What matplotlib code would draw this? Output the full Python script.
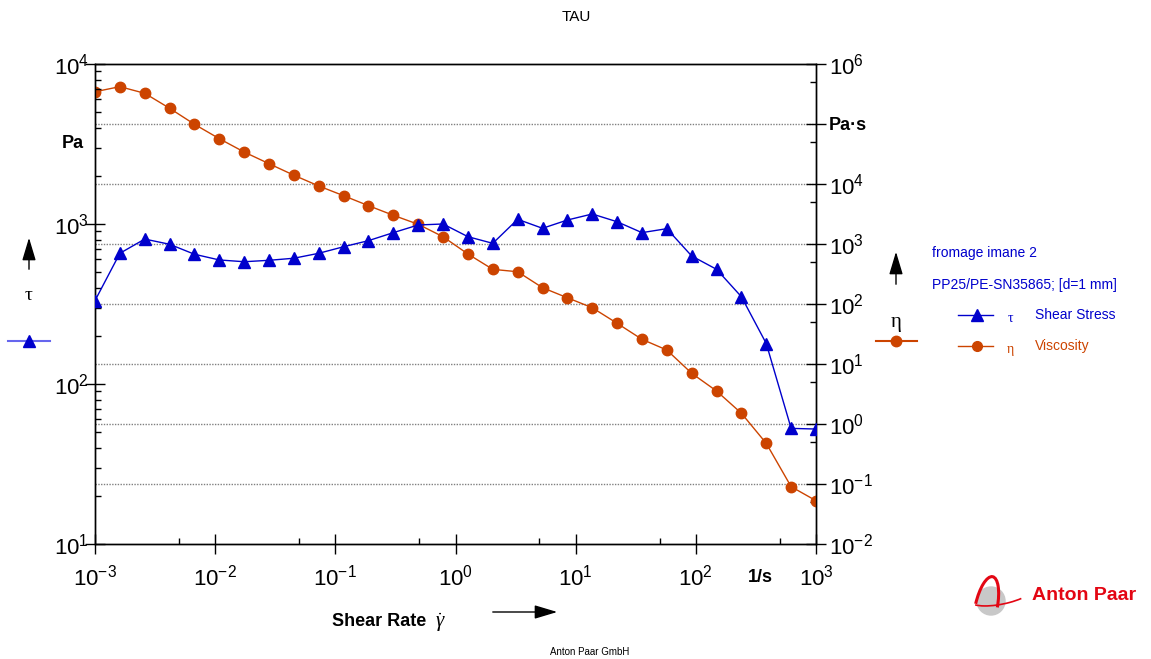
import numpy as np
import matplotlib
matplotlib.use('Agg')
import matplotlib.pyplot as plt
from matplotlib.lines import Line2D
from matplotlib.patches import Circle, Arc, FancyArrowPatch
from matplotlib import ticker

plt.rcParams['font.family'] = ['Liberation Sans', 'DejaVu Sans']
plt.rcParams['mathtext.fontset'] = 'custom'
plt.rcParams['mathtext.rm'] = 'Liberation Sans'
plt.rcParams['mathtext.it'] = 'Liberation Serif:italic'
plt.rcParams['mathtext.bf'] = 'Liberation Sans:bold'

# shear rate [1/s]
shear_rate = [0.001, 0.00161, 0.002593, 0.004175, 0.006723, 0.01083, 0.01743, 0.02807,
              0.0452, 0.07279, 0.1172, 0.1887, 0.3039, 0.4894, 0.788, 1.269, 2.043,
              3.29, 5.298, 8.532, 13.74, 22.12, 35.62, 57.36, 92.36, 148.7, 239.5,
              385.6, 621.0, 1000.0]
# shear stress tau [Pa]
shear_stress = [332, 656, 805, 747, 647, 596, 581, 593, 611, 656, 721, 787, 883, 986,
                1000, 833, 757, 1070, 940, 1059, 1155, 1033, 883, 935, 631, 521, 351,
                179, 52.8, 52.3]
# viscosity eta [Pa.s]
viscosity = [345000, 419000, 325000, 183000, 98900, 56900, 34100, 21800, 14000, 9270,
             6380, 4350, 3010, 2130, 1320, 681, 378, 345, 187, 127, 86.7, 47.7, 25.8,
             17.1, 7.0, 3.55, 1.51, 0.476, 0.0902, 0.0527]

x_exps = [-3, -2, -1, 0, 1, 2, 3]
left_exps = [1, 2, 3, 4]
right_exps = [-2, -1, 0, 1, 2, 3, 4, 5, 6]

BLUE = '#0000cc'
ORANGE = '#cc4400'
RED = '#e30613'
W, H = 1151, 659


def fx(px):
    return px / W


def fy(py):
    return 1 - py / H


def dec_label(e):
    return r'$\mathdefault{10^{%d}}$' % e


fig = plt.figure(figsize=(W / 100, H / 100), dpi=100)
ax1 = fig.add_axes([fx(95), fy(544), (816 - 95) / W, (544 - 64) / H])
ax2 = ax1.twinx()

ax1.set_xscale('log')
ax1.set_yscale('log')
ax2.set_yscale('log')
ax1.set_xlim(1e-3, 1e3)
ax1.set_ylim(10, 1e4)
ax2.set_ylim(1e-2, 1e6)

# grid lines follow the right axis decades
for e in right_exps[1:-1]:
    ax2.axhline(10.0 ** e, color='#808080', lw=1.0, ls=(0, (1, 1)), zorder=0)

ax2.plot(shear_rate, viscosity, color=ORANGE, lw=1, marker='o', ms=7.5,
         markeredgecolor=ORANGE, zorder=3)
ax1.plot(shear_rate, shear_stress, color=BLUE, lw=1, marker='^', ms=8.5,
         markeredgecolor=BLUE, zorder=3)
ax1.set_zorder(ax2.get_zorder() + 1)
ax1.patch.set_visible(False)

ax1.set_xticks([10.0 ** e for e in x_exps])
ax1.set_xticklabels([dec_label(e) for e in x_exps])
ax1.xaxis.set_minor_locator(ticker.FixedLocator([5 * 10.0 ** e for e in x_exps[:-1]]))
ax1.xaxis.set_minor_formatter(ticker.NullFormatter())

ax1.set_yticks([10.0 ** e for e in left_exps])
ax1.set_yticklabels([dec_label(e) for e in left_exps])
ax1.yaxis.set_minor_locator(ticker.LogLocator(base=10, subs=[2, 3, 4, 5, 6, 7, 8, 9]))
ax1.yaxis.set_minor_formatter(ticker.NullFormatter())

ax2.set_yticks([10.0 ** e for e in right_exps])
ax2.set_yticklabels(['' if e == 5 else dec_label(e) for e in right_exps])
ax2.yaxis.set_minor_locator(ticker.FixedLocator([5 * 10.0 ** e for e in right_exps[:-1]]))
ax2.yaxis.set_minor_formatter(ticker.NullFormatter())

for ax in (ax1, ax2):
    ax.tick_params(which='major', direction='inout', length=15, width=1,
                   labelsize=16, pad=2)
    ax.tick_params(which='minor', direction='in', length=4, width=1)
    for s in ax.spines.values():
        s.set_linewidth(1)
ax1.tick_params(axis='x', which='major', pad=7)
ax1.tick_params(axis='y', which='major', pad=-3)

# axis texts
fig.text(fx(576), fy(17), 'TAU', ha='center', va='center', fontsize=11)
fig.text(fx(73), fy(143), 'Pa', ha='center', va='center', fontsize=13, fontweight='bold')
fig.text(fx(829), fy(125), 'Pa·s', ha='left', va='center', fontsize=13, fontweight='bold')
fig.text(fx(760), fy(578), '1/s', ha='center', va='center', fontsize=13, fontweight='bold')
fig.text(fx(332), fy(621), 'Shear Rate', ha='left', va='center', fontsize=13,
         fontweight='bold')
fig.text(fx(440), fy(623), r'$\dot{\gamma}$', ha='center', va='center', fontsize=15)
fig.text(fx(590), fy(652), 'Anton Paar GmbH', ha='center', va='center', fontsize=7)


def arrow(x0, y0, x1, y1):
    fig.add_artist(FancyArrowPatch(
        (fx(x0), fy(y0)), (fx(x1), fy(y1)), transform=fig.transFigure,
        arrowstyle='-|>,head_length=1.0,head_width=0.3', color='black', lw=1,
        mutation_scale=14))


arrow(490, 612, 560, 612)
arrow(29, 272, 29, 235)
arrow(896, 287, 896, 249)

# side symbols
fig.text(fx(29), fy(296), 'τ', ha='center', va='center', fontsize=14, family='Liberation Serif')
fig.add_artist(Line2D([fx(8), fx(29), fx(50)], [fy(341)] * 3, transform=fig.transFigure,
                      color='#6666ee', lw=1.5, marker='^', ms=8.5, markevery=[1],
                      markerfacecolor=BLUE, markeredgecolor=BLUE))
fig.text(fx(896), fy(322), 'η', ha='center', va='center', fontsize=15, family='Liberation Serif')
fig.add_artist(Line2D([fx(876), fx(896), fx(917)], [fy(341)] * 3, transform=fig.transFigure,
                      color=ORANGE, lw=1.5, marker='o', ms=7.5, markevery=[1]))

# legend block
fig.text(fx(932), fy(253), 'fromage imane 2', color=BLUE, fontsize=10, va='center')
fig.text(fx(932), fy(285), 'PP25/PE-SN35865; [d=1 mm]', color=BLUE, fontsize=10, va='center')
fig.add_artist(Line2D([fx(958), fx(977), fx(993)], [fy(315)] * 3, transform=fig.transFigure,
                      color=BLUE, lw=1, marker='^', ms=8, markevery=[1]))
fig.text(fx(1010), fy(318), 'τ', color=BLUE, fontsize=10, ha='center', va='center',
         family='Liberation Serif')
fig.text(fx(1035), fy(315), 'Shear Stress', color=BLUE, fontsize=10, va='center')
fig.add_artist(Line2D([fx(958), fx(977), fx(993)], [fy(346)] * 3, transform=fig.transFigure,
                      color=ORANGE, lw=1, marker='o', ms=7, markevery=[1]))
fig.text(fx(1010), fy(349), 'η', color=ORANGE, fontsize=10, ha='center', va='center',
         family='Liberation Serif')
fig.text(fx(1035), fy(346), 'Viscosity', color=ORANGE, fontsize=10, va='center')

# logo
logo = fig.add_axes([fx(962), fy(630), 70 / W, 60 / H])
logo.set_xlim(0, 70)
logo.set_ylim(0, 60)
logo.axis('off')
logo.add_patch(Circle((29, 29), 14, color='#c8c8c8'))
logo.add_patch(Arc((24, 22), 22, 64, angle=-12, theta1=15, theta2=170, color=RED, lw=2.2))
logo.add_patch(Arc((40, 36), 66, 20, angle=12, theta1=190, theta2=335, color=RED, lw=1.2))
fig.text(fx(1032), fy(596), 'Anton Paar', color=RED, fontsize=14, fontweight='bold',
         va='center')

fig.savefig('out.png', dpi=100)
